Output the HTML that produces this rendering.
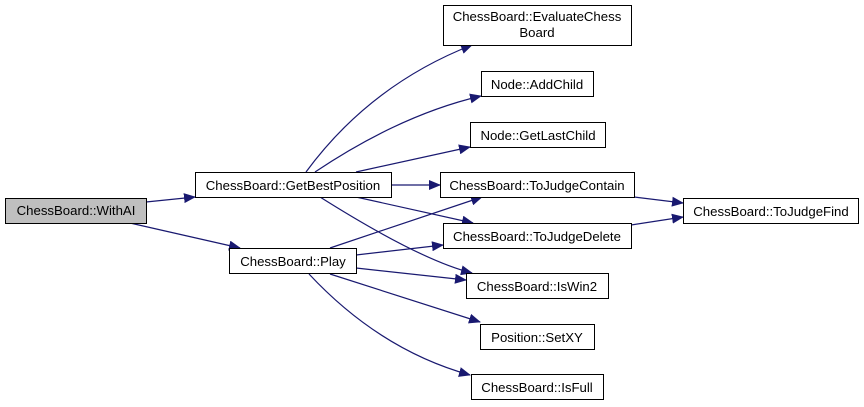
<!DOCTYPE html>
<html><head><style>
html,body{margin:0;padding:0;background:#fff;width:864px;height:407px;overflow:hidden}
svg text{font-family:"Liberation Sans",Arial,sans-serif;font-size:13.2px;fill:#000}
</style></head><body>
<svg width="864" height="407" viewBox="0 0 864 407" xmlns="http://www.w3.org/2000/svg">
<defs><marker id="a" markerWidth="12" markerHeight="10" refX="11" refY="5" orient="auto" markerUnits="userSpaceOnUse"><path d="M0,0 L12,5 L0,10 z" fill="#191970"/></marker></defs>
<g fill="none" stroke="#191970" stroke-width="1.2" marker-end="url(#a)">
<path d="M146,202 L195,197"/>
<path d="M130,223 L240,248"/>
<path d="M306,172 Q370,85 472,45"/>
<path d="M315,172 Q400,115 481,96"/>
<path d="M356,172 L470,147"/>
<path d="M391,185 L440,185"/>
<path d="M356,197 L473,223"/>
<path d="M320,197 Q420,260 472,273"/>
<path d="M330,248 L482,197"/>
<path d="M356,255 L443,245"/>
<path d="M356,268 L466,280"/>
<path d="M330,274 L480,322"/>
<path d="M309,274 Q380,350 470,375"/>
<path d="M634,197 L683,203"/>
<path d="M631,225 L683,217"/>
</g>
<g stroke="#000" stroke-width="1" fill="#fff">
<rect x="5.5" y="198.5" width="141" height="25" fill="#bfbfbf"/>
<rect x="195.5" y="172.5" width="196" height="25"/>
<rect x="229.5" y="248.5" width="127" height="25"/>
<rect x="443.5" y="5.5" width="188" height="40"/>
<rect x="481.5" y="71.5" width="112" height="25"/>
<rect x="470.5" y="122.5" width="135" height="25"/>
<rect x="440.5" y="172.5" width="194" height="25"/>
<rect x="443.5" y="223.5" width="188" height="25"/>
<rect x="683.5" y="198.5" width="175" height="25"/>
<rect x="466.5" y="273.5" width="142" height="25"/>
<rect x="480.5" y="324.5" width="114" height="25"/>
<rect x="471.5" y="374.5" width="132" height="25"/>
</g>
<g text-anchor="middle">
<text x="76" y="215">ChessBoard::WithAI</text>
<text x="293" y="190">ChessBoard::GetBestPosition</text>
<text x="293" y="266">ChessBoard::Play</text>
<text x="537" y="21">ChessBoard::EvaluateChess</text>
<text x="537" y="37">Board</text>
<text x="537" y="89">Node::AddChild</text>
<text x="538" y="140">Node::GetLastChild</text>
<text x="537" y="190">ChessBoard::ToJudgeContain</text>
<text x="537" y="241">ChessBoard::ToJudgeDelete</text>
<text x="771" y="216">ChessBoard::ToJudgeFind</text>
<text x="537" y="291">ChessBoard::IsWin2</text>
<text x="537" y="342">Position::SetXY</text>
<text x="537" y="392">ChessBoard::IsFull</text>
</g>
</svg>
</body></html>
